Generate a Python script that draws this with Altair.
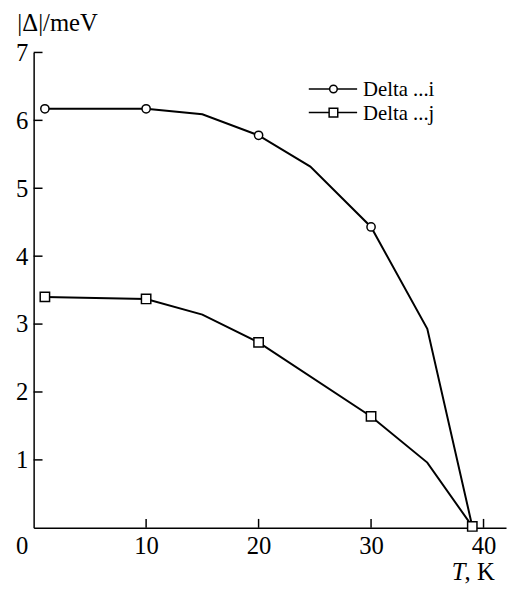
import altair as alt
import pandas as pd

# ---- data ----
series = ["Delta ...i", "Delta ...j"]
T_i = [1, 10, 15, 20, 24.6, 30, 35, 39]
D_i = [6.17, 6.17, 6.09, 5.78, 5.32, 4.43, 2.93, 0.02]
mark_i = [True, True, False, True, False, True, False, False]
T_j = [1, 10, 15, 20, 30, 35, 39]
D_j = [3.40, 3.37, 3.14, 2.73, 1.64, 0.96, 0.02]
mark_j = [True, True, False, True, True, False, True]
x_ticks = [0, 10, 20, 30, 40]
x_tick_marks = [10, 20, 30, 40]
y_ticks = [1, 2, 3, 4, 5, 6, 7]
y_title = "|Δ|/meV"
x_title_italic = "T"
x_title_rest = ", K"

W, H = 479, 482
FONT = "Liberation Serif"

df_i = pd.DataFrame({"T": T_i, "D": D_i, "m": mark_i, "s": series[0]})
df_j = pd.DataFrame({"T": T_j, "D": D_j, "m": mark_j, "s": series[1]})
df = pd.concat([df_i, df_j], ignore_index=True)

xs = alt.Scale(domain=[0, 42], nice=False, zero=False)
ys = alt.Scale(domain=[0, 7], nice=False, zero=False)

x_axis = alt.Axis(
    values=x_ticks, ticks=False, grid=False, title=None,
    domainColor="black", domainWidth=1.5,
    labelFont=FONT, labelFontSize=25, labelColor="black", labelPadding=6,
    labelAlign={"condition": {"test": "datum.value === 0", "value": "right"}, "value": "center"},
    labelOffset={"condition": {"test": "datum.value === 0", "value": -6}, "value": 0},
    labelFlush=False, labelOverlap=False,
)
y_axis = alt.Axis(
    values=y_ticks, ticks=False, grid=False,
    domainColor="black", domainWidth=1.5,
    labelFont=FONT, labelFontSize=25, labelColor="black", labelPadding=6,
    labelBaseline="middle", labelFlush=False, labelOverlap=False,
    title=y_title, titleAngle=0, titleX=-17, titleY=-22, titleAlign="left",
    titleBaseline="alphabetic", titleFont=FONT, titleFontSize=25,
    titleFontWeight="normal", titleColor="black",
)

X = lambda f: alt.X(f, scale=xs, axis=x_axis)
Y = lambda f: alt.Y(f, scale=ys, axis=y_axis)

lines = alt.Chart(df).mark_line(color="black", strokeWidth=2).encode(
    x=X("T:Q"), y=Y("D:Q"), detail="s:N",
)

circles = alt.Chart(df_i[df_i["m"]]).mark_point(
    shape="circle", filled=True, fill="white", stroke="black",
    strokeWidth=1.5, size=70, opacity=1,
).encode(x=X("T:Q"), y=Y("D:Q"))

squares = alt.Chart(df_j[df_j["m"]]).mark_point(
    shape="square", filled=True, fill="white", stroke="black",
    strokeWidth=1.5, size=90, opacity=1,
).encode(x=X("T:Q"), y=Y("D:Q"))

xt = alt.Chart(pd.DataFrame({"T": x_tick_marks})).mark_rule(color="black", strokeWidth=1.5).encode(
    x=X("T:Q"), y=alt.value(H), y2=alt.value(H - 9)
)
yt = alt.Chart(pd.DataFrame({"D": y_ticks})).mark_rule(color="black", strokeWidth=1.5).encode(
    y=Y("D:Q"), x=alt.value(0), x2=alt.value(9)
)

# legend (drawn by hand, top right)
leg = []
shapes = ["circle", "square"]
sizes = [70, 90]
for k, (name, shp, sz) in enumerate(zip(series, shapes, sizes)):
    yy = 37 + 24 * k
    ldf = pd.DataFrame({"s": [name]})
    leg.append(alt.Chart(ldf).mark_rule(color="black", strokeWidth=1.5).encode(
        x=alt.value(279), x2=alt.value(328), y=alt.value(yy)))
    leg.append(alt.Chart(ldf).mark_point(
        shape=shp, filled=True, fill="white", stroke="black", strokeWidth=1.5,
        size=sz * 0.85, opacity=1).encode(x=alt.value(304), y=alt.value(yy)))
    leg.append(alt.Chart(ldf).mark_text(
        align="left", baseline="middle", font=FONT, fontSize=21, color="black").encode(
        x=alt.value(334), y=alt.value(yy + 1), text="s:N"))

tdf = pd.DataFrame({"a": [x_title_italic], "b": [x_title_rest]})
xt1 = alt.Chart(tdf).mark_text(align="right", baseline="alphabetic", font=FONT,
                               fontSize=25, fontStyle="italic", color="black").encode(
    x=alt.value(438), y=alt.value(H + 53), text="a:N")
xt2 = alt.Chart(tdf).mark_text(align="left", baseline="alphabetic", font=FONT,
                               fontSize=25, color="black").encode(
    x=alt.value(437), y=alt.value(H + 53), text="b:N")

chart = alt.layer(lines, xt, yt, circles, squares, *leg, xt1, xt2).properties(
    width=W, height=H,
    autosize=alt.AutoSizeParams(type="none"),
    padding={"left": 26, "top": 41, "right": 2, "bottom": 59},
    background="white",
).configure_view(stroke=None)

chart.save("out.html", embed_options={"renderer": "svg", "actions": False})
